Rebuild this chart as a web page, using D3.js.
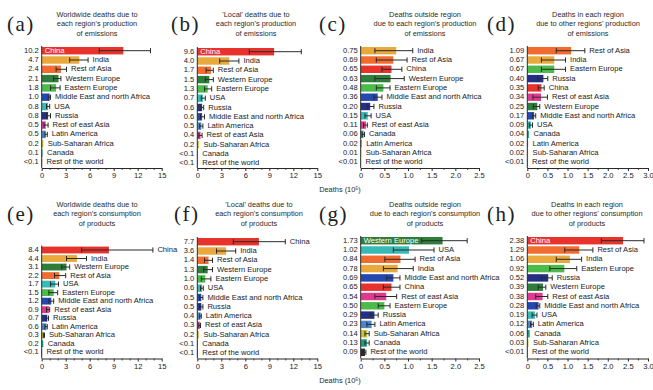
<!DOCTYPE html>
<html>
<head>
<meta charset="utf-8">
<script src="https://cdn.jsdelivr.net/npm/d3@7"></script>
<style>
  body { margin: 0; background: #fff; }
  svg { display: block; }
  text { font-family: "Liberation Sans", Arial, sans-serif; }
</style>
</head>
<body>
<svg id="chart" width="653" height="390"></svg>
<script>
// ---- Data: deaths (10^5) by region, with uncertainty ranges ----
const regionColor = {
  "China": "#e8322c",
  "India": "#e9a93d",
  "Rest of Asia": "#f26b2f",
  "Western Europe": "#2f7d3b",
  "Eastern Europe": "#4dbb4a",
  "Middle East and north Africa": "#2548b0",
  "USA": "#37b9b5",
  "Russia": "#262f86",
  "Rest of east Asia": "#e03a8e",
  "Latin America": "#4b86c6",
  "Sub-Saharan Africa": "#c8c23a",
  "Canada": "#1f9e7c",
  "Rest of the world": "#2b2b2b"
};

const titleA = ["Worldwide deaths due to", "each region's production", "of emissions"];
const regionsA = ["China", "India", "Rest of Asia", "Western Europe", "Eastern Europe", "Middle East and north Africa", "USA", "Russia", "Rest of east Asia", "Latin America", "Sub-Saharan Africa", "Canada", "Rest of the world"];
const valuesA = [10.2, 4.7, 2.4, 2.1, 1.8, 1.0, 0.8, 0.8, 0.5, 0.5, 0.2, 0.1, 0.05];
const lowA = [7.2, 3.5, 1.8, 1.5, 1.1, 0.8, 0.6, 0.6, 0.3, 0.4, 0.2, 0.1, 0.05];
const highA = [13.6, 5.8, 3.1, 2.4, 2.3, 1.1, 1.0, 1.1, 0.8, 0.7, 0.2, 0.1, 0.05];

const titleB = ["'Local' deaths due to", "each region's production", "of emissions"];
const regionsB = ["China", "India", "Rest of Asia", "Western Europe", "Eastern Europe", "USA", "Russia", "Middle East and north Africa", "Latin America", "Rest of east Asia", "Sub-Saharan Africa", "Canada", "Rest of the world"];
const valuesB = [9.6, 4.0, 1.7, 1.5, 1.3, 0.7, 0.6, 0.6, 0.5, 0.4, 0.2, 0.05, 0.05];
const lowB = [6.5, 2.8, 1.1, 1.0, 0.9, 0.5, 0.4, 0.4, 0.3, 0.2, 0.2, 0.05, 0.05];
const highB = [13.0, 5.2, 2.0, 2.0, 1.8, 1.0, 0.8, 0.9, 0.7, 0.6, 0.2, 0.05, 0.05];

const titleC = ["Deaths outside region", "due to each region's production", "of emissions"];
const regionsC = ["India", "Rest of Asia", "China", "Western Europe", "Eastern Europe", "Middle East and north Africa", "Russia", "USA", "Rest of east Asia", "Canada", "Latin America", "Sub-Saharan Africa", "Rest of the world"];
const valuesC = [0.75, 0.69, 0.65, 0.63, 0.48, 0.36, 0.20, 0.15, 0.11, 0.06, 0.02, 0.01, 0.005];
const lowC = [0.30, 0.33, 0.45, 0.30, 0.33, 0.28, 0.14, 0.09, 0.06, 0.03, 0.02, 0.01, 0.005];
const highC = [1.10, 0.98, 0.87, 0.92, 0.62, 0.45, 0.28, 0.22, 0.14, 0.08, 0.02, 0.01, 0.005];

const titleD = ["Deaths in each region", "due to other regions' production", "of emissions"];
const regionsD = ["Rest of Asia", "India", "Eastern Europe", "Russia", "China", "Rest of east Asia", "Western Europe", "Middle East and north Africa", "USA", "Canada", "Latin America", "Sub-Saharan Africa", "Rest of the world"];
const valuesD = [1.09, 0.67, 0.67, 0.40, 0.35, 0.34, 0.25, 0.17, 0.09, 0.04, 0.02, 0.02, 0.005];
const lowD = [0.72, 0.35, 0.35, 0.25, 0.27, 0.14, 0.15, 0.13, 0.05, 0.04, 0.02, 0.02, 0.005];
const highD = [1.43, 0.95, 0.95, 0.51, 0.42, 0.50, 0.31, 0.21, 0.13, 0.04, 0.02, 0.02, 0.005];

const titleE = ["Worldwide deaths due to", "each region's consumption", "of products"];
const regionsE = ["China", "India", "Western Europe", "Rest of Asia", "USA", "Eastern Europe", "Middle East and north Africa", "Rest of east Asia", "Russia", "Latin America", "Sub-Saharan Africa", "Canada", "Rest of the world"];
const valuesE = [8.4, 4.4, 3.1, 2.2, 1.7, 1.5, 1.2, 0.9, 0.7, 0.6, 0.3, 0.2, 0.05];
const lowE = [5.0, 3.1, 2.5, 1.6, 1.1, 0.9, 0.9, 0.6, 0.5, 0.4, 0.2, 0.2, 0.05];
const highE = [13.9, 5.6, 3.5, 3.0, 2.1, 2.0, 1.5, 1.0, 0.85, 0.7, 0.35, 0.2, 0.05];

const titleF = ["'Local' deaths due to", "each region's consumption", "of products"];
const regionsF = ["China", "India", "Rest of Asia", "Western Europe", "Eastern Europe", "USA", "Middle East and north Africa", "Russia", "Latin America", "Rest of east Asia", "Sub-Saharan Africa", "Canada", "Rest of the world"];
const valuesF = [7.7, 3.6, 1.4, 1.3, 1.0, 0.6, 0.5, 0.5, 0.4, 0.3, 0.2, 0.05, 0.05];
const lowF = [4.5, 2.4, 0.9, 0.8, 0.5, 0.4, 0.3, 0.3, 0.3, 0.2, 0.2, 0.05, 0.05];
const highF = [11.0, 4.8, 1.9, 1.9, 1.7, 0.75, 0.7, 0.7, 0.5, 0.4, 0.2, 0.05, 0.05];

const titleG = ["Deaths outside region", "due to each region's consumption", "of products"];
const regionsG = ["Western Europe", "USA", "Rest of Asia", "India", "Middle East and north Africa", "China", "Rest of east Asia", "Eastern Europe", "Russia", "Latin America", "Sub-Saharan Africa", "Canada", "Rest of the world"];
const valuesG = [1.73, 1.02, 0.84, 0.78, 0.69, 0.65, 0.54, 0.50, 0.29, 0.23, 0.14, 0.13, 0.09];
const lowG = [1.29, 0.69, 0.51, 0.48, 0.55, 0.48, 0.30, 0.37, 0.20, 0.13, 0.09, 0.09, 0.05];
const highG = [2.25, 1.55, 1.15, 1.11, 0.83, 0.83, 0.76, 0.62, 0.37, 0.30, 0.18, 0.18, 0.11];

const titleH = ["Deaths in each region", "due to other regions' consumption", "of products"];
const regionsH = ["China", "Rest of Asia", "India", "Eastern Europe", "Russia", "Western Europe", "Rest of east Asia", "Middle East and north Africa", "USA", "Latin America", "Canada", "Sub-Saharan Africa", "Rest of the world"];
const valuesH = [2.38, 1.29, 1.06, 0.92, 0.52, 0.39, 0.38, 0.28, 0.19, 0.12, 0.06, 0.03, 0.005];
const lowH = [1.84, 0.93, 0.72, 0.56, 0.35, 0.27, 0.21, 0.22, 0.12, 0.08, 0.06, 0.03, 0.005];
const highH = [2.90, 1.63, 1.35, 1.23, 0.62, 0.46, 0.51, 0.31, 0.24, 0.15, 0.06, 0.03, 0.005];

const ticksWide = [0, 3, 6, 9, 12, 15];
const ticksNarrow = [0, 0.5, 1.0, 1.5, 2.0, 2.5];
const ticksNarrow3 = [0, 0.5, 1.0, 1.5, 2.0, 2.5, 3.0];
const axisTitle = "Deaths (10\u2075)";

// ---- Panel layout ----
const panels = [
  { letter: "(a)", title: titleA, regions: regionsA, values: valuesA, low: lowA, high: highA, ticks: ticksWide, minor: 1, digits: 1,
    x0: 41.7, x1: 161.7, yTop: 50.7, yBot: 162.3, axisY: 168, letterX: 7, letterY: 31, titleX: 97, titleY: 15, inside: 0 },
  { letter: "(b)", title: titleB, regions: regionsB, values: valuesB, low: lowB, high: highB, ticks: ticksWide, minor: 1, digits: 1,
    x0: 197.3, x1: 317.3, yTop: 51.7, yBot: 163.3, axisY: 168, letterX: 171, letterY: 31, titleX: 256, titleY: 15, inside: 0 },
  { letter: "(c)", title: titleC, regions: regionsC, values: valuesC, low: lowC, high: highC, ticks: ticksNarrow, minor: 0.25, digits: 2,
    x0: 360.7, x1: 479, yTop: 50.7, yBot: 162.3, axisY: 168, letterX: 319, letterY: 31, titleX: 425, titleY: 15, inside: -1 },
  { letter: "(d)", title: titleD, regions: regionsD, values: valuesD, low: lowD, high: highD, ticks: ticksNarrow3, minor: 0.25, digits: 2,
    x0: 527.3, x1: 648, yTop: 50.7, yBot: 162.3, axisY: 168, letterX: 487, letterY: 31, titleX: 588, titleY: 15, inside: -1 },
  { letter: "(e)", title: titleE, regions: regionsE, values: valuesE, low: lowE, high: highE, ticks: ticksWide, minor: 1, digits: 1,
    x0: 41.7, x1: 161.7, yTop: 250, yBot: 352.3, axisY: 358.5, letterX: 7, letterY: 221, titleX: 97, titleY: 205, inside: -1 },
  { letter: "(f)", title: titleF, regions: regionsF, values: valuesF, low: lowF, high: highF, ticks: ticksWide, minor: 1, digits: 1,
    x0: 197.3, x1: 317.3, yTop: 241.7, yBot: 353.3, axisY: 358.5, letterX: 174, letterY: 221, titleX: 259, titleY: 205, inside: -1 },
  { letter: "(g)", title: titleG, regions: regionsG, values: valuesG, low: lowG, high: highG, ticks: ticksNarrow, minor: 0.25, digits: 2,
    x0: 360.7, x1: 479, yTop: 240.7, yBot: 352.3, axisY: 358.5, letterX: 319, letterY: 221, titleX: 425, titleY: 205, inside: 0 },
  { letter: "(h)", title: titleH, regions: regionsH, values: valuesH, low: lowH, high: highH, ticks: ticksNarrow3, minor: 0.25, digits: 2,
    x0: 527.3, x1: 648, yTop: 240.7, yBot: 352.3, axisY: 358.5, letterX: 487, letterY: 221, titleX: 587, titleY: 205, inside: 0 }
];

const svg = d3.select("#chart");
const ink = "#2a2a2a";
const labelSize = 7.6;
const titleSize = 7.4;

function valueLabel(v, digits) {
  const floor = Math.pow(10, -digits);
  return v < floor ? "<" + floor.toFixed(digits) : v.toFixed(digits);
}

panels.forEach(p => {
  const g = svg.append("g");
  const xMax = p.ticks[p.ticks.length - 1];
  const x = d3.scaleLinear().domain([0, xMax]).range([p.x0, p.x1]);
  const rows = d3.range(p.regions.length);
  const y = d3.scalePoint().domain(rows).range([p.yTop, p.yBot]);
  const step = y.step();
  const barH = step * 0.8;

  // panel letter
  g.append("text")
    .attr("x", p.letterX).attr("y", p.letterY)
    .style("font-family", "'Liberation Serif', 'Times New Roman', serif")
    .attr("font-size", 21).attr("letter-spacing", 1.5)
    .attr("fill", "#222")
    .text(p.letter);

  // title
  g.append("g").selectAll("text").data(p.title).join("text")
    .attr("x", p.titleX).attr("y", (d, i) => p.titleY + i * 9.5)
    .attr("text-anchor", "middle").attr("dominant-baseline", "middle")
    .attr("font-size", titleSize).attr("fill", "#2a2a2a")
    .text(d => d);

  // bars
  g.append("g").selectAll("rect").data(rows).join("rect")
    .attr("x", x(0))
    .attr("y", i => y(i) - barH / 2)
    .attr("width", i => x(p.values[i]) - x(0))
    .attr("height", barH)
    .attr("fill", i => regionColor[p.regions[i]]);

  // error bars
  const errRows = rows.filter(i => p.high[i] > p.low[i]);
  const eg = g.append("g").attr("stroke", ink).attr("stroke-width", 1).attr("fill", "none");
  eg.selectAll("line.err").data(errRows).join("line").attr("class", "err")
    .attr("x1", i => x(p.low[i])).attr("x2", i => x(p.high[i]))
    .attr("y1", i => y(i)).attr("y2", i => y(i));
  eg.selectAll("line.capl").data(errRows).join("line").attr("class", "capl")
    .attr("x1", i => x(p.low[i])).attr("x2", i => x(p.low[i]))
    .attr("y1", i => y(i) - 2.6).attr("y2", i => y(i) + 2.6);
  eg.selectAll("line.caph").data(errRows).join("line").attr("class", "caph")
    .attr("x1", i => x(p.high[i])).attr("x2", i => x(p.high[i]))
    .attr("y1", i => y(i) - 2.6).attr("y2", i => y(i) + 2.6);

  // value labels at the left of the axis
  g.append("g").selectAll("text").data(rows).join("text")
    .attr("x", p.x0 - 3).attr("y", i => y(i))
    .attr("text-anchor", "end").attr("dominant-baseline", "middle")
    .attr("font-size", labelSize).attr("fill", "#1a1a1a")
    .text(i => valueLabel(p.values[i], p.digits));

  // region names: inside the leading bar or after the error bar
  g.append("g").selectAll("text").data(rows).join("text")
    .attr("x", i => i === p.inside ? p.x0 + 3 : x(Math.max(p.values[i], p.high[i])) + 4.5)
    .attr("y", i => y(i))
    .attr("dominant-baseline", "middle")
    .attr("font-size", labelSize)
    .attr("fill", i => i === p.inside ? "#fff" : "#1a1a1a")
    .text(i => p.regions[i]);

  // vertical axis line
  g.append("line")
    .attr("x1", p.x0).attr("x2", p.x0)
    .attr("y1", y(0) - barH / 2 - 1).attr("y2", p.axisY)
    .attr("stroke", ink).attr("stroke-width", 1);

  // x axis with major and minor ticks
  const minorTicks = d3.range(0, xMax + 1e-9, p.minor).filter(v => !p.ticks.some(t => Math.abs(t - v) < 1e-9));
  const axisMinor = d3.axisBottom(x).tickValues(minorTicks).tickSize(2).tickSizeOuter(0).tickFormat("");
  const gm = g.append("g").attr("transform", `translate(0,${p.axisY})`).call(axisMinor);
  gm.select(".domain").attr("stroke", ink);
  gm.selectAll(".tick line").attr("stroke", ink).attr("stroke-width", 0.8);

  const axisMajor = d3.axisBottom(x).tickValues(p.ticks).tickSize(3).tickSizeOuter(0).tickPadding(2)
    .tickFormat(d => d === 0 ? "0" : (p.digits === 2 ? d3.format(".1f")(d) : d3.format("d")(d)));
  const ga = g.append("g").attr("transform", `translate(0,${p.axisY})`).call(axisMajor);
  ga.select(".domain").remove();
  ga.selectAll(".tick line").attr("stroke", ink).attr("stroke-width", 1);
  ga.selectAll(".tick text").attr("font-size", labelSize).attr("fill", "#1a1a1a")
    .attr("font-family", null).style("font-family", "'Liberation Sans', Arial, sans-serif");
});

// shared axis titles
[190.5, 381].forEach(yy => {
  svg.append("text")
    .attr("x", 340).attr("y", yy)
    .attr("text-anchor", "middle").attr("dominant-baseline", "middle")
    .attr("font-size", titleSize).attr("fill", "#2a2a2a")
    .text(axisTitle);
});
</script>
</body>
</html>
